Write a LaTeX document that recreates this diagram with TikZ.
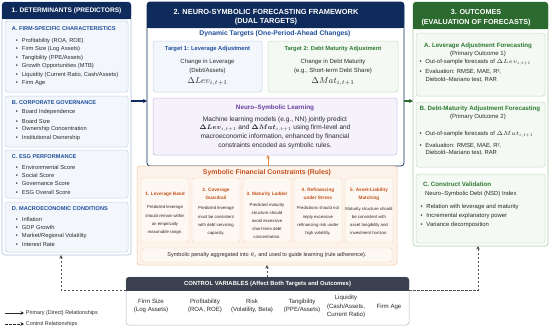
\RequirePackage{fix-cm}
\documentclass[tikz,border=0pt]{standalone}
\usepackage{bm}
\usepackage{fontspec}
\setmainfont{Liberation Sans}
\usetikzlibrary{arrows.meta}
\definecolor{navy}{HTML}{0E2B5C}
\definecolor{tblue}{HTML}{1F4E9B}
\definecolor{bfill}{HTML}{F3F7FC}
\definecolor{bline}{HTML}{C3D4EA}
\definecolor{lfrc}{HTML}{A8C0E0}
\definecolor{ghdr}{HTML}{2C6A2F}
\definecolor{gtitle}{HTML}{2E7A33}
\definecolor{gfill}{HTML}{F4F9F3}
\definecolor{gline}{HTML}{C6DDC3}
\definecolor{gfrc}{HTML}{A9CBA6}
\definecolor{pur}{HTML}{6A3D9E}
\definecolor{pfill}{HTML}{F5F2FB}
\definecolor{pline}{HTML}{C9BCE5}
\definecolor{org}{HTML}{C2521E}
\definecolor{ofill}{HTML}{FDF3EA}
\definecolor{oline}{HTML}{F0C8A0}
\definecolor{rfill}{HTML}{FEF8F2}
\definecolor{rline}{HTML}{F2D4B8}
\definecolor{ghead}{HTML}{3B414E}
\definecolor{cline}{HTML}{B5B9C1}
\definecolor{txt}{HTML}{2A2A2A}
\definecolor{dashc}{HTML}{555555}
\definecolor{oarrow}{HTML}{E8873A}
\newcommand\boxnode[6]{\node[#2, anchor=north west, minimum width={#5pt-#3pt}, minimum height={#6pt-#4pt}] (#1) at (#3,#4) {};}
\newcommand\mybul{\makebox[6pt][l]{\textbullet}}
\tikzset{
  every node/.style={inner sep=0pt, outer sep=0pt},
  lfr/.style={draw=lfrc, line width=0.6pt, fill=white, rounded corners=3pt},
  cfr/.style={draw=navy, line width=0.7pt, fill=white, rounded corners=3pt},
  gfr/.style={draw=gfrc, line width=0.6pt, fill=white, rounded corners=3pt},
  bbox/.style={draw=bline, fill=bfill, line width=0.5pt, rounded corners=2.5pt},
  gbox/.style={draw=gline, fill=gfill, line width=0.5pt, rounded corners=2.5pt},
  pbox/.style={draw=pline, fill=pfill, line width=0.5pt, rounded corners=2.5pt},
  obox/.style={draw=oline, fill=ofill, line width=0.5pt, rounded corners=3pt},
  rbox/.style={draw=rline, fill=rfill, line width=0.4pt, rounded corners=2pt},
  cbox/.style={draw=cline, fill=white, line width=0.5pt, rounded corners=3pt},
  hdr/.style={text=white, font=\fontsize{7.4}{8.5}\selectfont\bfseries, align=center},
  sec/.style={anchor=west, text=tblue, font=\fontsize{5.6}{6.5}\selectfont\bfseries},
  bt/.style={anchor=west, text=txt, font=\fontsize{5.75}{6.5}\selectfont},
  rbt/.style={anchor=west, text=txt, font=\fontsize{5.9}{6.5}\selectfont},
  ttl/.style={font=\fontsize{6.2}{7}\selectfont\bfseries},
  body/.style={text=txt, font=\fontsize{6}{7}\selectfont},
  nsl/.style={text=txt, font=\fontsize{6.6}{7.5}\selectfont},
  rtitle/.style={text=org, font=\fontsize{4.7}{8}\selectfont\bfseries, align=center},
  rdesc/.style={text=txt, font=\fontsize{4.3}{8.2}\selectfont, align=center},
  ctrl/.style={text=txt, font=\fontsize{6.1}{8.5}\selectfont, align=center},
  parrow/.style={line width=1.3pt, -{Stealth[length=4pt,width=4pt]}},
  carrow/.style={draw=dashc, line width=0.7pt, dash pattern=on 2.5pt off 1.5pt, -{Stealth[length=3.5pt,width=3.5pt]}},
}
\begin{document}
\begin{tikzpicture}[x=1pt,y=-1pt]
\useasboundingbox (0,0) rectangle (550,330);
\fill[white] (0,0) rectangle (550,330);
% ===== left column =====
\boxnode{det}{lfr}{2}{2}{131}{255}
\fill[navy, rounded corners=3pt] (2,2) rectangle (131,19);
\fill[navy] (2,12) rectangle (131,19);
\node[hdr, font=\fontsize{6.6}{7.5}\selectfont\bfseries] (dethdr) at (66.5,10.8) {1. DETERMINANTS (PREDICTORS)};
\boxnode{boxA}{bbox}{5}{21}{128}{92}
\boxnode{boxB}{bbox}{5}{96}{128}{147}
\boxnode{boxC}{bbox}{5}{150}{128}{198}
\boxnode{boxD}{bbox}{5}{202}{128}{252}
\node[sec] (At) at (12,28.5) {A. FIRM-SPECIFIC CHARACTERISTICS};
\node[bt] (a1) at (16,41) {\mybul Profitability (ROA, ROE)};
\node[bt] (a2) at (16,49.5) {\mybul Firm Size (Log Assets)};
\node[bt] (a3) at (16,58) {\mybul Tangibility (PPE/Assets)};
\node[bt] (a4) at (16,66.5) {\mybul Growth Opportunities (MTB)};
\node[bt] (a5) at (16,75) {\mybul Liquidity (Current Ratio, Cash/Assets)};
\node[bt] (a6) at (16,83.5) {\mybul Firm Age};
\node[sec] (Bt) at (12,102.5) {B. CORPORATE GOVERNANCE};
\node[bt] (b1) at (16,112.5) {\mybul Board Independence};
\node[bt] (b2) at (16,121) {\mybul Board Size};
\node[bt] (b3) at (16,129.5) {\mybul Ownership Concentration};
\node[bt] (b4) at (16,138) {\mybul Institutional Ownership};
\node[sec] (Ct) at (12,157) {C. ESG PERFORMANCE};
\node[bt] (c1) at (16,167) {\mybul Environmental Score};
\node[bt] (c2) at (16,175.5) {\mybul Social Score};
\node[bt] (c3) at (16,184) {\mybul Governance Score};
\node[bt] (c4) at (16,192.5) {\mybul ESG Overall Score};
\node[sec] (Dt) at (12,209) {D. MACROECONOMIC CONDITIONS};
\node[bt] (d1) at (16,219) {\mybul Inflation};
\node[bt] (d2) at (16,227.5) {\mybul GDP Growth};
\node[bt] (d3) at (16,236) {\mybul Market/Regional Volatility};
\node[bt] (d4) at (16,244.5) {\mybul Interest Rate};
% ===== center column =====
\boxnode{cen}{cfr}{147}{2}{404}{166}
\fill[navy, rounded corners=3pt] (147,2) rectangle (404,28);
\fill[navy] (147,18) rectangle (404,28);
\node[hdr] (cenh1) at (266,11.5) {2. NEURO-SYMBOLIC FORECASTING FRAMEWORK};
\node[hdr] (cenh2) at (266,21.5) {(DUAL TARGETS)};
\node[ttl, text=tblue, font=\fontsize{6.8}{7.5}\selectfont\bfseries] (dyn) at (275,34) {Dynamic Targets (One-Period-Ahead Changes)};
\boxnode{t1}{bbox}{153}{41}{262}{92}
\boxnode{t2}{gbox}{268}{41}{398}{92}
\node[ttl, text=tblue, font=\fontsize{5.8}{7}\selectfont\bfseries] (t1a) at (207.5,49.5) {Target 1: Leverage Adjustment};
\node[body] (t1b) at (207.5,62) {Change in Leverage};
\node[body] (t1c) at (207.5,70.5) {(Debt/Assets)};
\node[text=txt, font=\fontsize{8.6}{9}\selectfont] (t1d) at (207.5,82) {$\Delta Lev_{i,t+1}$};
\node[ttl, text=gtitle, font=\fontsize{5.8}{7}\selectfont\bfseries] (t2a) at (333,49.5) {Target 2: Debt Maturity Adjustment};
\node[body] (t2b) at (333,62) {Change in Debt Maturity};
\node[body] (t2c) at (333,70.5) {(e.g., Short-term Debt Share)};
\node[text=txt, font=\fontsize{8.6}{9}\selectfont] (t2d) at (333,82) {$\Delta Mat_{i,t+1}$};
\boxnode{nsl}{pbox}{153}{98}{397}{155}
\node[ttl, text=pur, font=\fontsize{6.3}{7}\selectfont\bfseries] (nslt) at (275,108) {Neuro–Symbolic Learning};
\node[nsl] (n1) at (275,120) {Machine learning models (e.g., NN) jointly predict};
\node[nsl] (n2) at (275,128.5) {$\bm{\Delta Lev}_{i,t+1}$ and $\bm{\Delta Mat}_{i,t+1}$ using firm-level and};
\node[nsl] (n3) at (275,137) {macroeconomic information, enhanced by financial};
\node[nsl] (n4) at (275,145.5) {constraints encoded as symbolic rules.};
\boxnode{orng}{obox}{137}{166}{397}{265}
\node[ttl, text=org, font=\fontsize{6.9}{7.5}\selectfont\bfseries] (orgt) at (267,173) {Symbolic Financial Constraints (Rules)};
\boxnode{r1}{rbox}{141}{178}{189}{242}
\boxnode{r2}{rbox}{192}{178}{240}{242}
\boxnode{r3}{rbox}{243}{178}{291}{242}
\boxnode{r4}{rbox}{294}{178}{342}{242}
\boxnode{r5}{rbox}{345}{178}{393}{242}
\node[rtitle] (r1t) at (165,194) {1. Leverage Band};
\node[rtitle] (r2t) at (216,194) {2. Coverage\\Guardrail};
\node[rtitle] (r3t) at (267,194) {3. Maturity Ladder};
\node[rtitle] (r4t) at (318,194) {4. Refinancing\\under Stress};
\node[rtitle] (r5t) at (369,194) {5. Asset-Liability\\Matching};
\node[rdesc] (r1d) at (165,220) {Predicted leverage\\should remain within\\an empirically\\reasonable range.};
\node[rdesc] (r2d) at (216,221) {Predicted leverage\\must be consistent\\with debt servicing\\capacity.};
\node[rdesc] (r3d) at (267,221) {Predicted maturity\\structure should\\avoid excessive\\short-term debt\\concentration.};
\node[rdesc] (r4d) at (318,221) {Predictions should not\\imply excessive\\refinancing risk under\\high volatility.};
\node[rdesc] (r5d) at (369,221) {Maturity structure should\\be consistent with\\asset tangibility and\\investment horizon.};
\boxnode{pen}{rbox}{142}{248}{392}{262}
\node[text=txt, font=\fontsize{5.5}{6}\selectfont] (pent) at (267,255) {Symbolic penalty aggregated into $\theta_t$ and used to guide learning (rule adherence).};
\coordinate (ox) at (268,0);
\draw[line width=1pt, draw=oarrow, -{Stealth[length=3.5pt,width=3.5pt]}] (orng.north -| ox) -- (nsl.south -| ox);
% ===== right column =====
\boxnode{out}{gfr}{413}{2}{548}{246}
\fill[ghdr, rounded corners=3pt] (413,2) rectangle (548,29);
\fill[ghdr] (413,18) rectangle (548,29);
\node[hdr, font=\fontsize{7.2}{8}\selectfont\bfseries] (outh1) at (476,12) {3. OUTCOMES};
\node[hdr, font=\fontsize{7.2}{8}\selectfont\bfseries] (outh2) at (476,22.5) {(EVALUATION OF FORECASTS)};
\boxnode{oA}{gbox}{416}{33}{545}{96}
\boxnode{oB}{gbox}{416}{102}{545}{167}
\boxnode{oC}{gbox}{416}{174}{545}{243}
\node[ttl, text=gtitle] (oAt) at (478,46) {A. Leverage Adjustment Forecasting};
\node[body] (oAs) at (478,53.5) {(Primary Outcome 1)};
\node[rbt] (oA1) at (419.5,62.5) {\mybul Out-of-sample forecasts of $\Delta Lev_{i,t+1}$};
\node[rbt] (oA2) at (419.5,72) {\mybul Evaluation: RMSE, MAE, R²,};
\node[rbt] (oA3) at (425.5,79.5) {Diebold–Mariano test, RAR};
\node[ttl, text=gtitle] (oBt) at (480,108.5) {B. Debt-Maturity Adjustment Forecasting};
\node[body] (oBs) at (478,117) {(Primary Outcome 2)};
\node[rbt] (oB1) at (419.5,134) {\mybul Out-of-sample forecasts of $\Delta Mat_{i,t+1}$};
\node[rbt] (oB2) at (419.5,145.5) {\mybul Evaluation: RMSE, MAE, R²,};
\node[rbt] (oB3) at (425.5,153) {Diebold–Mariano test, RAR};
\node[ttl, text=gtitle, anchor=west] (oCt) at (423,184.5) {C. Construct Validation};
\node[rbt] (oCs) at (425,194) {Neuro–Symbolic Debt (NSD) Index};
\node[rbt] (oC1) at (420.5,207) {\mybul Relation with leverage and maturity};
\node[rbt] (oC2) at (420.5,216) {\mybul Incremental explanatory power};
\node[rbt] (oC3) at (420.5,225) {\mybul Variance decomposition};
% ===== control box =====
\boxnode{ctl}{cbox}{126}{277}{409}{325}
\fill[ghead, rounded corners=3pt] (126,277) rectangle (409,290.5);
\fill[ghead] (126,284) rectangle (409,290.5);
\node[hdr, font=\fontsize{5.9}{7}\selectfont\bfseries] (ctlh) at (267.5,284) {CONTROL VARIABLES (Affect Both Targets and Outcomes)};
\node[ctrl] (k1) at (151,306) {Firm Size\\(Log Assets)};
\node[ctrl] (k2) at (205,306) {Profitability\\(ROA, ROE)};
\node[ctrl] (k3) at (252,306) {Risk\\(Volatility, Beta)};
\node[ctrl] (k4) at (302,306) {Tangibility\\(PPE/Assets)};
\node[ctrl] (k5) at (346,306.5) {Liquidity\\(Cash/Assets,\\Current Ratio)};
\node[ctrl] (k6) at (389,307) {Firm Age};
\coordinate (cx) at (267,0);
\draw[carrow] (ctl.north -| cx) -- (orng.south -| cx);
% ===== main connectors =====
\coordinate (ya) at (0,101);
\draw[parrow, navy] (det.east |- ya) -- (cen.west |- ya);
\draw[parrow, ghdr] (cen.east |- ya) -- (out.west |- ya);
\coordinate (lc) at (61,290);
\coordinate (rc) at (478,290);
\draw[carrow] (ctl.west |- lc) -- (lc) -- (det.south -| lc);
\draw[carrow] (ctl.east |- rc) -- (rc) -- (out.south -| rc);
% ===== legend =====
\coordinate (lg1a) at (5,313); \coordinate (lg1b) at (24,313);
\coordinate (lg2a) at (5,324); \coordinate (lg2b) at (24,324);
\draw[line width=0.7pt, draw=txt, -{Stealth[length=3.5pt,width=3.5pt]}] (lg1a) -- (lg1b);
\draw[carrow, draw=txt] (lg2a) -- (lg2b);
\node[bt, font=\fontsize{5.4}{6}\selectfont] (lgt1) at (26,313) {Primary (Direct) Relationships};
\node[bt, font=\fontsize{5.4}{6}\selectfont] (lgt2) at (26,324) {Control Relationships};
\end{tikzpicture}
\end{document}
